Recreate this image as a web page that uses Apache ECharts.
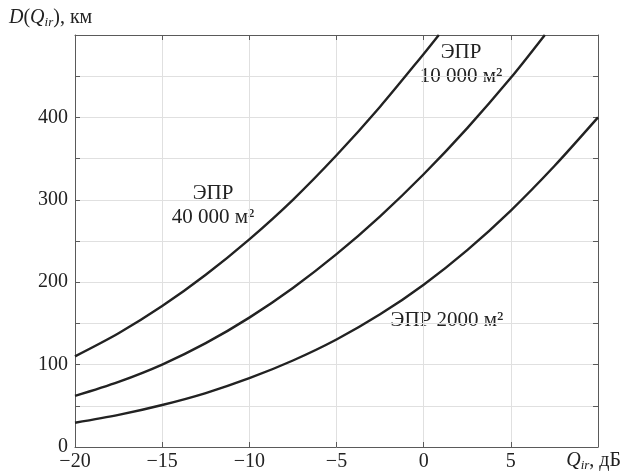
<!DOCTYPE html>
<html>
<head>
<meta charset="utf-8">
<script src="https://cdn.jsdelivr.net/npm/echarts@6/dist/echarts.min.js"></script>
<style>
  html, body { margin: 0; padding: 0; background: #fff; }
  #main { width: 622px; height: 475px; }
</style>
</head>
<body>
<div id="main"></div>
<script>
// Q_ir, дБ  ->  D(Q_ir), км
var q2000 = [-20, -17.5, -15, -12.5, -10, -7.5, -5, -2.5, 0, 2.5, 5, 7.5, 10];
var d2000 = [29.5, 39, 51, 65.5, 83.5, 105, 130.5, 161, 197, 239, 287, 341, 400];

var q10000 = [-20, -17.5, -15, -12.5, -10, -7.5, -5, -2.5, 0, 2.5, 5, 6.95];
var d10000 = [62, 79, 100, 126, 157, 193, 234, 280, 331, 387, 448, 500];

var q40000 = [-20, -17.5, -15, -12.5, -10, -7.5, -5, -2.5, 0, 0.87];
var d40000 = [110, 138, 171, 209, 252, 300, 354, 413, 477, 500];

var xTicks = [-20, -15, -10, -5, 0, 5];
var yTicks = [0, 100, 200, 300, 400];

function pairs(xs, ys) {
    var out = [];
    for (var i = 0; i < xs.length; i++) out.push([xs[i], ys[i]]);
    return out;
}

var FONT = 'Liberation Serif';
var frame = '#5a5a5a';

var myChart = echarts.init(document.getElementById('main'));

var curve = {
    type: 'line',
    smooth: 0.3,
    showSymbol: false,
    lineStyle: { color: '#222', width: 2.4 },
    silent: true
};

option = {
    animation: false,
    backgroundColor: '#fff',
    grid: { left: 75, right: 24, top: 35, bottom: 28 },
    xAxis: [
        {
            type: 'value', min: -20, max: 10, interval: 5,
            axisLine: { onZero: false, lineStyle: { color: frame } },
            axisTick: { inside: true, length: 5, lineStyle: { color: frame } },
            splitLine: { lineStyle: { color: '#e0e0e0' } },
            axisLabel: {
                margin: 5, color: '#222', fontFamily: FONT, fontSize: 20,
                formatter: function (v) {
                    return xTicks.indexOf(v) >= 0 ? String(v).replace('-', '\u2212') : '';
                }
            }
        },
        {
            type: 'value', position: 'top', min: -20, max: 10, interval: 5,
            axisLine: { show: true, onZero: false, lineStyle: { color: frame } },
            axisTick: { inside: true, length: 5, lineStyle: { color: frame } },
            splitLine: { show: false },
            axisLabel: { show: false }
        }
    ],
    yAxis: [
        {
            type: 'value', min: 0, max: 500, interval: 50,
            axisLine: { show: true, onZero: false, lineStyle: { color: frame } },
            axisTick: { show: true, inside: true, length: 5, lineStyle: { color: frame } },
            splitLine: { lineStyle: { color: '#e0e0e0' } },
            axisLabel: {
                margin: 7, color: '#222', fontFamily: FONT, fontSize: 20,
                formatter: function (v) {
                    return yTicks.indexOf(v) >= 0 ? String(v) : '';
                }
            }
        },
        {
            type: 'value', position: 'right', min: 0, max: 500, interval: 50,
            axisLine: { show: true, onZero: false, lineStyle: { color: frame } },
            axisTick: { show: true, inside: true, length: 5, lineStyle: { color: frame } },
            splitLine: { show: false },
            axisLabel: { show: false }
        }
    ],
    series: [
        Object.assign({ name: 'ЭПР 2000 м²', data: pairs(q2000, d2000) }, curve),
        Object.assign({ name: 'ЭПР 10 000 м²', data: pairs(q10000, d10000) }, curve),
        Object.assign({ name: 'ЭПР 40 000 м²', data: pairs(q40000, d40000) }, curve)
    ],
    graphic: [
        {
            type: 'text', left: 9, top: 8,
            style: {
                text: '{i|D}{r|(}{i|Q}{s|ir}{r|), км}',
                rich: {
                    i: { fontFamily: FONT, fontStyle: 'italic', fontSize: 20, lineHeight: 22, verticalAlign: 'middle', fill: '#222' },
                    r: { fontFamily: FONT, fontSize: 20, lineHeight: 22, verticalAlign: 'middle', fill: '#222' },
                    s: { fontFamily: FONT, fontStyle: 'italic', fontSize: 13, lineHeight: 12, verticalAlign: 'bottom', fill: '#222' }
                }
            }
        },
        {
            type: 'text', right: 1, top: 451,
            style: {
                text: '{i|Q}{s|ir}{r|, дБ}',
                rich: {
                    i: { fontFamily: FONT, fontStyle: 'italic', fontSize: 20, lineHeight: 22, verticalAlign: 'middle', fill: '#222' },
                    r: { fontFamily: FONT, fontSize: 20, lineHeight: 22, verticalAlign: 'middle', fill: '#222' },
                    s: { fontFamily: FONT, fontStyle: 'italic', fontSize: 13, lineHeight: 12, verticalAlign: 'bottom', fill: '#222' }
                }
            }
        },
        {
            type: 'text', x: 213, y: 205,
            style: {
                text: 'ЭПР\n40 000 м²', align: 'center', verticalAlign: 'middle',
                fontFamily: FONT, fontSize: 21, lineHeight: 24, fill: '#222'
            }
        },
        {
            type: 'text', x: 461, y: 64,
            style: {
                text: 'ЭПР\n10 000 м²', align: 'center', verticalAlign: 'middle',
                fontFamily: FONT, fontSize: 21, lineHeight: 24, fill: '#222'
            }
        },
        {
            type: 'text', x: 447, y: 320,
            style: {
                text: 'ЭПР 2000 м²', align: 'center', verticalAlign: 'middle',
                fontFamily: FONT, fontSize: 21, fill: '#222'
            }
        }
    ]
};

myChart.setOption(option);
</script>
</body>
</html>
